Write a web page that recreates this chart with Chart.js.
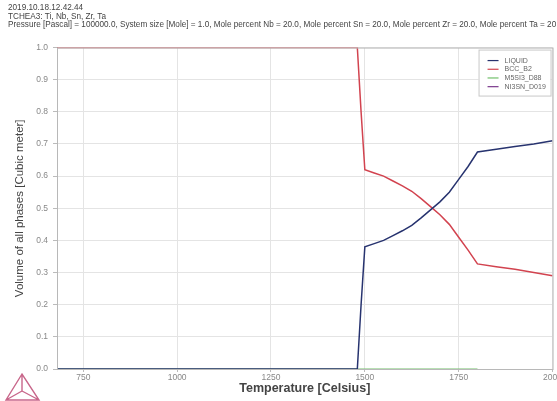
<!DOCTYPE html>
<html>
<head>
<meta charset="utf-8">
<script src="https://cdn.jsdelivr.net/npm/chart.js@4"></script>
<style>
  html, body { margin: 0; padding: 0; background: #fff; overflow: hidden; }
  #wrap { width: 563px; height: 401px; }
</style>
</head>
<body>
<div id="wrap"><canvas id="c" width="563" height="401"></canvas></div>
<script>
// values
var titleLines = [
  '2019.10.18.12.42.44',
  'TCHEA3: Ti, Nb, Sn, Zr, Ta',
  'Pressure [Pascal] = 100000.0, System size [Mole] = 1.0, Mole percent Nb = 20.0, Mole percent Sn = 20.0, Mole percent Zr = 20.0, Mole percent Ta = 20.0'
];
var temps   = [680, 1480, 1490, 1500, 1525, 1550, 1575, 1600, 1625, 1650, 1675, 1700, 1725, 1750, 1775, 1800, 1850, 1900, 1950, 2000];
var liquid  = [0, 0, 0.20, 0.38, 0.39, 0.40, 0.415, 0.43, 0.447, 0.47, 0.495, 0.52, 0.55, 0.59, 0.63, 0.675, 0.684, 0.692, 0.70, 0.71];
var bccB2   = [1, 1, 0.80, 0.62, 0.61, 0.60, 0.585, 0.57, 0.553, 0.53, 0.505, 0.48, 0.45, 0.41, 0.37, 0.327, 0.318, 0.31, 0.30, 0.29];
var m5si3T  = [680, 1800];
var m5si3   = [0, 0];
var ni3snT  = [680, 1800];
var ni3sn   = [0, 0];
var xTicks  = [750, 1000, 1250, 1500, 1750, 2000];
var yTicks  = [0, 0.1, 0.2, 0.3, 0.4, 0.5, 0.6, 0.7, 0.8, 0.9, 1.0];

function pts(xs, ys) {
  return xs.map(function (x, i) { return { x: x, y: ys[i] }; });
}

Chart.defaults.font.family = "'Liberation Sans', Arial, sans-serif";
Chart.defaults.color = '#777';

// frame around plot area + boxed legend + logo
var extras = {
  id: 'extras',
  afterDatasetsDraw: function (chart) {
    var ctx = chart.ctx, a = chart.chartArea;
    ctx.save();
    ctx.strokeStyle = '#b8b8b8';
    ctx.lineWidth = 1;
    ctx.strokeRect(a.left + 0.5, a.top + 0.5, a.right - a.left, a.bottom - a.top);

    // legend
    var lx = a.right - 74, ly = a.top + 2;
    ctx.fillStyle = '#fff';
    ctx.fillRect(lx, ly, 72, 46);
    ctx.strokeStyle = '#c8c8c8';
    ctx.strokeRect(lx + 0.5, ly + 0.5, 72, 46);
    ctx.font = "7px 'Liberation Sans', Arial, sans-serif";
    ctx.textBaseline = 'middle';
    chart.data.datasets.forEach(function (ds, i) {
      var y = ly + 11 + i * 8.7;
      ctx.strokeStyle = ds.borderColor;
      ctx.lineWidth = 1.2;
      ctx.beginPath();
      ctx.moveTo(lx + 9, y);
      ctx.lineTo(lx + 20, y);
      ctx.stroke();
      ctx.fillStyle = '#666';
      ctx.fillText(ds.label, lx + 26, y);
    });

    // thermo-calc logo
    ctx.strokeStyle = '#c8668a';
    ctx.lineWidth = 1.4;
    ctx.beginPath();
    ctx.moveTo(22, 374); ctx.lineTo(6, 400); ctx.lineTo(39, 400); ctx.closePath();
    ctx.moveTo(22, 374); ctx.lineTo(22, 391);
    ctx.moveTo(6, 400); ctx.lineTo(22, 391);
    ctx.moveTo(39, 400); ctx.lineTo(22, 391);
    ctx.stroke();
    ctx.restore();
  }
};

new Chart(document.getElementById('c'), {
  type: 'line',
  data: {
    datasets: [
      { label: 'LIQUID', data: pts(temps, liquid), borderColor: '#27336f', borderWidth: 1.5 },
      { label: 'BCC_B2', data: pts(temps, bccB2), borderColor: '#d2434f', borderWidth: 1.5 },
      { label: 'M5SI3_D88', data: pts(m5si3T, m5si3), borderColor: '#72c06a', borderWidth: 1.2 },
      { label: 'NI3SN_D019', data: pts(ni3snT, ni3sn), borderColor: '#7b3a8c', borderWidth: 0 }
    ]
  },
  options: {
    responsive: false,
    animation: false,
    elements: { point: { radius: 0 }, line: { tension: 0 } },
    layout: { padding: { left: 8, right: 0, top: 0, bottom: 6 } },
    plugins: {
      legend: { display: false },
      tooltip: { enabled: false },
      title: {
        display: true,
        text: titleLines,
        align: 'start',
        color: '#444',
        font: { size: 8.2, weight: 'normal', lineHeight: 1.08 },
        padding: { top: 3, bottom: 18 }
      }
    },
    scales: {
      x: {
        type: 'linear',
        min: 680,
        max: 2000,
        afterBuildTicks: function (s) { s.ticks = xTicks.map(function (v) { return { value: v }; }); },
        ticks: { font: { size: 8.5, lineHeight: 1 }, color: '#888', padding: 1, maxRotation: 0,
                 callback: function (v) { return String(v); } },
        grid: { color: '#e4e4e4', tickLength: 3, tickColor: '#bbb' },
        border: { color: '#b8b8b8' },
        title: { display: true, text: 'Temperature [Celsius]', color: '#444',
                 font: { size: 12.5, weight: 'bold', lineHeight: 1 }, padding: { top: 0, bottom: 0 } }
      },
      y: {
        min: 0,
        max: 1,
        afterBuildTicks: function (s) { s.ticks = yTicks.map(function (v) { return { value: v }; }); },
        afterFit: function (s) { s.width = 49; },
        ticks: { font: { size: 8.5 }, color: '#888', padding: 5,
                 callback: function (v) { return Number(v).toFixed(1); } },
        grid: { color: '#e4e4e4', tickLength: 4, tickColor: '#bbb' },
        border: { color: '#b8b8b8' },
        title: { display: true, text: 'Volume of all phases [Cubic meter]', color: '#444',
                 font: { size: 11.5 }, padding: { top: 5, bottom: 0 } }
      }
    }
  },
  plugins: [extras]
});
</script>
</body>
</html>
